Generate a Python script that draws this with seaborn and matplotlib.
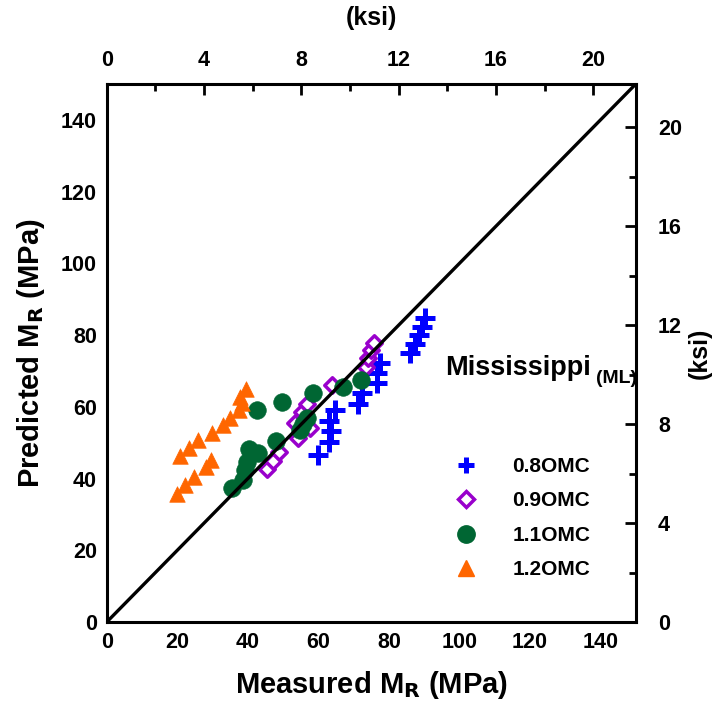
import numpy as np
import pandas as pd
import matplotlib
matplotlib.use("Agg")
import matplotlib.pyplot as plt
from matplotlib.ticker import MultipleLocator
from matplotlib.lines import Line2D
import seaborn as sns

sns.set_style("white")
plt.rcParams["font.family"] = ["Liberation Sans", "DejaVu Sans"]
plt.rcParams.update({
    "font.weight": "bold",
    "text.color": "black",
    "axes.labelcolor": "black",
    "axes.edgecolor": "black",
    "xtick.color": "black",
    "ytick.color": "black",
    "mathtext.default": "bf",
})

MPA_PER_KSI = 6.895

# Measured vs predicted resilient modulus (MPa), Mississippi (ML) soil
meas_08 = [59.9, 63.1, 63.6, 63.1, 64.8, 71.3, 72.4, 76.7, 76.7, 77.6, 86.1, 87.5, 88.4, 89.5, 90.3]
pred_08 = [46.6, 50.2, 53.3, 56.1, 59.1, 60.8, 63.9, 66.7, 69.5, 72.2, 75.0, 77.5, 80.1, 82.3, 84.8]

meas_09 = [45.5, 47.2, 48.9, 53.4, 54.3, 55.4, 56.8, 57.7, 63.9, 73.6, 74.1, 75.0, 75.9]
pred_09 = [42.7, 44.9, 47.4, 55.5, 51.3, 58.6, 60.8, 54.1, 66.1, 71.1, 73.6, 75.9, 77.8]

meas_11 = [35.5, 38.6, 39.2, 39.8, 40.3, 42.9, 42.6, 48.0, 49.7, 54.8, 55.7, 56.8, 58.5, 67.0, 72.2]
pred_11 = [37.4, 39.6, 42.4, 44.6, 48.3, 47.1, 59.1, 50.5, 61.4, 53.6, 55.2, 56.9, 63.9, 65.6, 67.5]

meas_12 = [39.5, 37.8, 38.4, 37.5, 34.9, 33.0, 29.8, 25.9, 23.3, 20.7, 29.5, 28.1, 24.7, 22.2, 19.9]
pred_12 = [65.0, 62.8, 61.1, 59.1, 56.9, 54.9, 52.7, 50.8, 48.5, 46.3, 45.2, 43.2, 40.4, 38.2, 35.7]

series_labels = ["0.8OMC", "0.9OMC", "1.1OMC", "1.2OMC"]
mpa_ticks = [0, 20, 40, 60, 80, 100, 120, 140]
ksi_ticks = [0, 4, 8, 12, 16, 20]

fig = plt.figure(figsize=(7.12, 7.04), dpi=100)
ax = fig.add_axes([0.150, 0.1165, 0.743, 0.7642])

blue, purple, green, orange = "#0000FF", "#9900CC", "#006633", "#FF6600"

sns.scatterplot(x=meas_08, y=pred_08, ax=ax, marker="+", s=190, color=blue,
                linewidth=3.6, zorder=3)
sns.scatterplot(x=meas_09, y=pred_09, ax=ax, marker="D", s=62, facecolor="white",
                edgecolor=purple, linewidth=2.5, zorder=3)
sns.scatterplot(x=meas_11, y=pred_11, ax=ax, marker="o", s=160, color=green,
                edgecolor=green, linewidth=0.5, zorder=4)
sns.scatterplot(x=meas_12, y=pred_12, ax=ax, marker="^", s=125, color=orange,
                edgecolor=orange, linewidth=0.5, zorder=4)

# line of equality
ax.plot([0, 150], [0, 150], color="black", lw=2.4, zorder=5)

ax.set_xlim(0, 150)
ax.set_ylim(0, 150)
ax.set_xticks(mpa_ticks)
ax.set_yticks(mpa_ticks)
ax.xaxis.set_minor_locator(MultipleLocator(10))
ax.yaxis.set_minor_locator(MultipleLocator(10))

for sp in ax.spines.values():
    sp.set_linewidth(2.2)

tick_kw = dict(direction="in", width=2.0, colors="black")
ax.tick_params(which="major", length=8, labelsize=15.5, pad=7, **tick_kw)
ax.tick_params(which="minor", length=5, **tick_kw)
for lab in ax.get_xticklabels() + ax.get_yticklabels():
    lab.set_fontweight("bold")

ax.set_xlabel(r"Measured M$_\mathbf{R}$ (MPa)", fontsize=21, fontweight="bold", labelpad=12)
ax.set_ylabel(r"Predicted M$_\mathbf{R}$ (MPa)", fontsize=21, fontweight="bold", labelpad=10)

to_ksi = lambda v: np.asarray(v) / MPA_PER_KSI
to_mpa = lambda v: np.asarray(v) * MPA_PER_KSI

top = ax.secondary_xaxis("top", functions=(to_ksi, to_mpa))
right = ax.secondary_yaxis("right", functions=(to_ksi, to_mpa))
top.set_ticks(ksi_ticks)
right.set_ticks(ksi_ticks)
top.tick_params(which="major", length=8, labelsize=15.5, pad=9, **tick_kw)
right.tick_params(which="major", length=8, labelsize=15.5, pad=16, **tick_kw)
for sec in (top, right):
    sec.tick_params(which="minor", length=5, **tick_kw)
top.xaxis.set_minor_locator(MultipleLocator(2))
right.yaxis.set_minor_locator(MultipleLocator(2))
for lab in top.get_xticklabels() + right.get_yticklabels():
    lab.set_fontweight("bold")
top.set_xlabel("(ksi)", fontsize=18, fontweight="bold", labelpad=18)
right.set_ylabel("(ksi)", fontsize=18, fontweight="bold", labelpad=4)

# legend
handles = [
    Line2D([], [], ls="", marker="+", ms=12, mew=3.6, color=blue),
    Line2D([], [], ls="", marker="D", ms=8, mfc="white", mec=purple, mew=2.5),
    Line2D([], [], ls="", marker="o", ms=12.5, color=green, mec=green),
    Line2D([], [], ls="", marker="^", ms=11, color=orange, mec=orange),
]
leg = ax.legend(handles, series_labels, loc="upper left", bbox_to_anchor=(0.643, 0.322),
                frameon=False, prop={"size": 15, "weight": "bold"}, handletextpad=1.73,
                labelspacing=0.74, handlelength=1.0, borderaxespad=0)
ax.text(0.64, 0.472, "Mississippi", transform=ax.transAxes, fontsize=19.5,
        fontweight="bold", ha="left", va="center")
ax.text(0.925, 0.452, "(ML)", transform=ax.transAxes, fontsize=14,
        fontweight="bold", ha="left", va="center")

fig.savefig("out.png", dpi=100)
